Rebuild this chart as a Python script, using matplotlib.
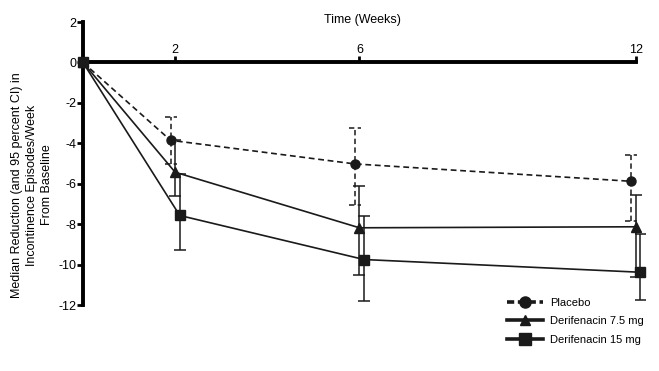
import matplotlib
matplotlib.use("Agg")
import matplotlib.pyplot as plt
from matplotlib.lines import Line2D

plt.rcParams["font.family"] = ["Liberation Sans", "DejaVu Sans"]
plt.rcParams["font.size"] = 9

hafta = [0, 2, 6, 12]
hafta_etiket = ["2", "6", "12"]
kayma = {"plasebo": -0.1, "d75": 0.0, "d15": 0.1}

plasebo = [0, -3.85, -5.02, -5.88]
plasebo_ust = [0, -2.7, -3.23, -4.59]
plasebo_alt = [0, -5.0, -7.03, -7.86]

d75 = [0, -5.43, -8.18, -8.13]
d75_ust = [0, -3.85, -6.09, -6.57]
d75_alt = [0, -6.6, -10.5, -10.6]

d15 = [0, -7.57, -9.75, -10.38]
d15_ust = [0, -5.5, -7.6, -8.48]
d15_alt = [0, -9.29, -11.8, -11.73]

etiketler = ["Placebo", "Derifenacin 7.5 mg", "Derifenacin 15 mg"]

fig = plt.figure(figsize=(6.59, 3.71), dpi=100)
ax = fig.add_axes([0.1259, 0.167, 0.860, 0.7845])

renk = "#1a1a1a"
kap = 0.13  # cap yarim genisligi (hafta)

def ciz(deger, ust, alt, k, marker, ms, ls):
    x = [h + (k if h > 0 else 0) for h in hafta]
    ax.plot(x, deger, color=renk, lw=1.2, ls=ls, marker=marker, ms=ms,
            clip_on=False, zorder=3)
    # hata cubuklari sadece 2, 6, 12. haftalar icin
    ax.vlines(x[1:], alt[1:], ust[1:], color=renk, lw=1.1, linestyles=ls, zorder=2)
    for xi, a, u in zip(x[1:], alt[1:], ust[1:]):
        ax.hlines([a, u], xi - kap, xi + kap, color=renk, lw=1.1, linestyles=ls, zorder=2)

kesik = (0, (3.5, 2.2))
ciz(plasebo, plasebo_ust, plasebo_alt, kayma["plasebo"], "o", 6.5, kesik)
ciz(d75, d75_ust, d75_alt, kayma["d75"], "^", 7, "-")
ciz(d15, d15_ust, d15_alt, kayma["d15"], "s", 7, "-")

ax.set_xlim(0, 12.3)
ax.set_ylim(-12.2, 2.2)

ax.spines["right"].set_visible(False)
ax.spines["bottom"].set_visible(False)
ax.spines["top"].set_position(("data", 0))
ax.spines["top"].set_bounds(0, 12)
ax.spines["left"].set_bounds(-12, 2)
ax.spines["top"].set_linewidth(2.8)
ax.spines["left"].set_linewidth(2.8)

ax.xaxis.set_ticks_position("top")
ax.set_xticks(hafta[1:])
ax.set_xticklabels(hafta_etiket)
ax.set_yticks(range(-12, 3, 2))
ax.set_yticklabels([str(v) for v in range(-12, 3, 2)])
ax.tick_params(axis="x", direction="out", length=4, width=2, pad=1)
ax.tick_params(axis="y", direction="out", length=4, width=2, pad=1)

fig.text(362 / 659, 1 - 20 / 371, "Time (Weeks)", ha="center", va="center")
fig.text(32 / 659, 1 - 185 / 371,
         "Median Reduction (and 95 percent CI) in\nIncontinence Episodes/Week\nFrom Baseline",
         rotation=90, ha="center", va="center", multialignment="center", linespacing=1.3)

tutamaclar = [
    Line2D([], [], color=renk, lw=2.6, ls=(0, (2, 1)), marker="o", ms=8),
    Line2D([], [], color=renk, lw=2.6, marker="^", ms=7),
    Line2D([], [], color=renk, lw=2.6, marker="s", ms=8),
]
fig.legend(tutamaclar, etiketler, loc="upper left", bbox_to_anchor=(0.769, 0.197),
           frameon=False, handlelength=3.3, handletextpad=0.6,
           labelspacing=0.75, borderpad=0, borderaxespad=0,
           prop={"size": 8})

fig.savefig("out.png", dpi=100)
